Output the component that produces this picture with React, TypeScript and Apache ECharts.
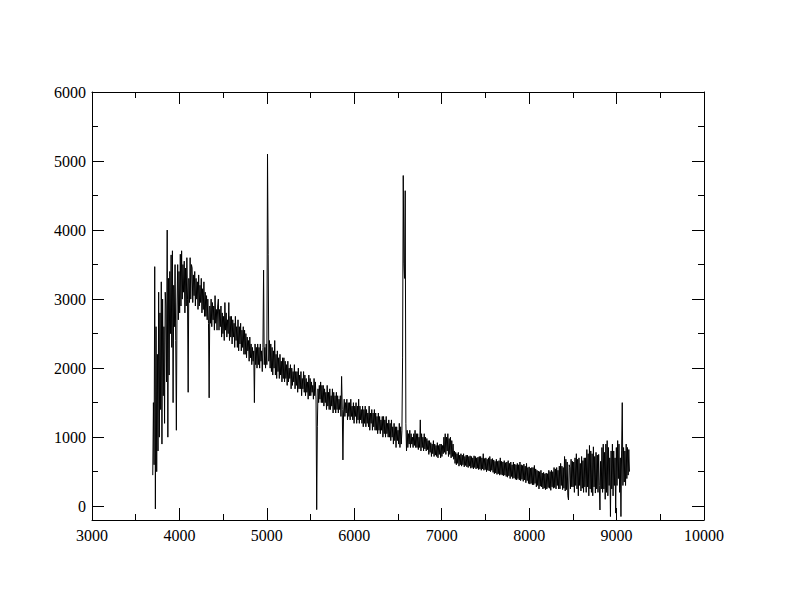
import React, { useEffect, useRef } from "react";
import * as echarts from "echarts";

// Spectrum sampled on a uniform wavelength grid (Å)
const WAVE_START = 3695;
const WAVE_STEP = 7.5;

// Flux values, 20 samples (150 Å) per row
const FLUX: number[] = [
  450, 1500, 600, 3470, -40, 2600, 500, 2200, 800, 3100, 1000, 2800, 1400, 3250, 900, 3000, 1600, 2600, 1200, 3100,
  2900, 1800, 4000, 1000, 3300, 1900, 3400, 2500, 3640, 2300, 3700, 1500, 3200, 2600, 3500, 2400, 1100, 2900, 3500, 2700,
  3400, 2800, 3650, 2900, 3700, 3000, 3500, 3100, 3550, 2800, 3450, 2900, 3600, 3000, 1650, 3300, 2950, 3600, 3000, 3500,
  3450, 2950, 3350, 3050, 3400, 2900, 3300, 3000, 3250, 2850, 3350, 2900, 3200, 2950, 3300, 2800, 3150, 2850, 3250, 2750,
  3100, 2750, 3050, 2700, 3000, 2650, 1570, 2900, 2650, 3000, 2600, 2950, 2700, 2900, 2550, 3050, 2650, 2850, 2550, 2900,
  3000, 2550, 2850, 2600, 2900, 2450, 2800, 2500, 2750, 2400, 2950, 2550, 2800, 2450, 2700, 2500, 2950, 2400, 2750, 2450,
  2750, 2350, 2700, 2450, 2650, 2300, 2750, 2400, 2600, 2300, 2700, 2250, 2600, 2350, 2650, 2250, 2550, 2300, 2600, 2200,
  2550, 2200, 2500, 2150, 2450, 2250, 2400, 2100, 2450, 2150, 2350, 2050, 2300, 2100, 2250, 1500, 2350, 2050, 2300, 2000,
  2350, 2050, 2300, 2000, 2350, 2100, 2250, 1950, 2300, 3420, 2050, 2300, 2000, 2350, 2050, 5100, 3650, 2100, 2400, 2000,
  2350, 1950, 2300, 1900, 2250, 2000, 2400, 1900, 2200, 1850, 2250, 1950, 2150, 1850, 2200, 1900, 2100, 1800, 2150, 1850,
  2150, 1800, 2100, 1850, 2050, 1750, 2100, 1800, 2000, 1850, 2050, 1700, 2000, 1750, 1950, 1800, 2050, 1700, 1950, 1750,
  1950, 1650, 2000, 1700, 1900, 1700, 1950, 1600, 1850, 1700, 1950, 1650, 1900, 1600, 1850, 1650, 1800, 1550, 1900, 1600,
  1850, 1600, 1800, 1650, 1750, 1550, 1850, 1600, 1800, 1550, -50, 1150, 1700, 1500, 1750, 1550, 1800, 1500, 1750, 1500,
  1750, 1450, 1700, 1500, 1650, 1400, 1750, 1450, 1650, 1400, 1700, 1400, 1600, 1450, 1700, 1350, 1650, 1400, 1600, 1350,
  1650, 1400, 1600, 1350, 1550, 1400, 1600, 1300, 1880, 1400, 670, 1350, 1550, 1300, 1500, 1350, 1550, 1250, 1500, 1300,
  1500, 1250, 1550, 1300, 1450, 1250, 1500, 1200, 1450, 1300, 1500, 1200, 1450, 1250, 1550, 1200, 1450, 1250, 1400, 1200,
  1450, 1150, 1400, 1200, 1450, 1150, 1400, 1200, 1350, 1150, 1450, 1100, 1350, 1200, 1400, 1100, 1350, 1150, 1400, 1100,
  1350, 1100, 1300, 1050, 1350, 1100, 1300, 1050, 1250, 1100, 1300, 1000, 1300, 1050, 1250, 1000, 1300, 1050, 1200, 1000,
  1250, 1000, 1200, 950, 1250, 1000, 1150, 900, 1200, 950, 1150, 850, 1150, 950, 1100, 900, 1200, 850, 1150, 900,
  1100, 2160, 4790, 3520, 3300, 4570, 1200, 800, 1100, 850, 1050, 900, 1100, 850, 1050, 900, 1000, 850, 1050, 880,
  1100, 850, 1050, 850, 1050, 820, 1000, 850, 1250, 800, 1050, 850, 1000, 800, 1050, 830, 1000, 800, 980, 820,
  950, 750, 950, 780, 920, 720, 900, 760, 950, 720, 900, 740, 880, 720, 920, 700, 880, 750, 900, 700,
  900, 720, 880, 760, 1000, 780, 1050, 750, 1000, 800, 1050, 720, 980, 750, 1000, 700, 950, 720, 900, 680,
  800, 620, 780, 600, 760, 620, 780, 580, 740, 600, 760, 580, 740, 600, 760, 570, 720, 590, 740, 570,
  740, 560, 720, 580, 730, 550, 720, 560, 700, 540, 730, 560, 720, 540, 700, 550, 710, 530, 720, 540,
  720, 520, 700, 540, 760, 520, 690, 530, 700, 500, 680, 520, 700, 510, 720, 500, 680, 520, 690, 490,
  670, 470, 650, 480, 680, 460, 650, 470, 660, 450, 700, 460, 650, 450, 640, 440, 660, 450, 630, 430,
  640, 420, 660, 440, 620, 400, 640, 430, 600, 400, 640, 410, 610, 390, 600, 380, 620, 400, 600, 380,
  640, 370, 600, 390, 590, 360, 610, 380, 580, 340, 620, 370, 560, 330, 570, 320, 550, 330, 560, 310,
  560, 310, 590, 330, 540, 280, 520, 300, 510, 250, 500, 290, 520, 280, 480, 250, 490, 260, 470, 240,
  480, 250, 470, 270, 520, 260, 500, 230, 520, 280, 500, 260, 560, 270, 540, 250, 560, 300, 520, 250,
  580, 250, 620, 300, 580, 240, 560, 260, 720, 220, 680, 240, 640, 150, 90, 600, 560, 250, 680, 280,
  650, 280, 640, 200, 700, 300, 760, 250, 680, 150, 700, 300, 620, 220, 720, 260, 660, 200, 700, 280,
  700, 200, 820, 280, 760, 150, 880, 250, 800, 200, 760, 150, 860, 280, 720, 190, 780, 250, 740, 200,
  750, 300, -55, 650, 250, 850, 200, 900, 250, 780, 100, 900, 200, 950, 150, 850, 300, 700, -150, 800,
  250, 900, 150, 800, 300, 700, -100, 850, 300, 950, 400, 900, 200, 700, -150, 800, 1500, 300, 850, 350,
  800, 300, 900, 400, 850, 450, 820, 500,
];

const X_MIN = 3000;
const X_MAX = 10000;
const X_INTERVAL = 1000;
const Y_MIN = -200;
const Y_MAX = 6000;
const Y_TICKS = [0, 1000, 2000, 3000, 4000, 5000, 6000];
const Y_MINOR_TICKS = [500, 1500, 2500, 3500, 4500, 5500];

const FONT = "'Liberation Serif', 'Times New Roman', serif";

export default function App() {
  const ref = useRef<HTMLDivElement>(null);

  useEffect(() => {
    if (!ref.current) return;
    const chart = echarts.init(ref.current, null, { renderer: "svg" });
    const data = FLUX.map((v, i) => [WAVE_START + WAVE_STEP * i, v]);

    const lineStyle = { color: "#000", width: 1 };
    const xBase = {
      type: "value" as const,
      min: X_MIN,
      max: X_MAX,
      interval: X_INTERVAL,
      splitLine: { show: false },
      axisLine: { show: true, onZero: false, lineStyle },
      axisTick: { show: true, inside: true, length: 12, lineStyle },
      minorTick: { show: true, splitNumber: 2, length: 6, lineStyle },
      minorSplitLine: { show: false },
    };
    const yBase = {
      type: "value" as const,
      min: Y_MIN,
      max: Y_MAX,
      splitLine: { show: false },
    };

    chart.setOption({
      animation: false,
      backgroundColor: "#fff",
      grid: { left: 92, top: 92, width: 612, height: 428, containLabel: false },
      xAxis: [
        {
          ...xBase,
          position: "bottom",
          axisLabel: {
            show: true,
            color: "#000",
            fontFamily: FONT,
            fontSize: 16,
            margin: 7,
            formatter: (v: number) => String(v),
          },
        },
        {
          ...xBase,
          position: "top",
          axisLabel: { show: false },
        },
      ],
      yAxis: [
        {
          ...yBase,
          position: "left",
          axisLine: { show: true, onZero: false, lineStyle },
          axisTick: { show: true, inside: true, length: 12, lineStyle, customValues: Y_TICKS },
          axisLabel: {
            show: true,
            color: "#000",
            fontFamily: FONT,
            fontSize: 16,
            margin: 6,
            customValues: Y_TICKS,
            formatter: (v: number) => String(v),
          },
        },
        {
          ...yBase,
          position: "left",
          axisLine: { show: false, onZero: false },
          axisTick: { show: true, inside: true, length: 6, lineStyle, customValues: Y_MINOR_TICKS },
          axisLabel: { show: false },
        },
        {
          ...yBase,
          position: "right",
          axisLine: { show: true, onZero: false, lineStyle },
          axisTick: { show: true, inside: true, length: 12, lineStyle, customValues: Y_TICKS },
          axisLabel: { show: false },
        },
        {
          ...yBase,
          position: "right",
          axisLine: { show: false, onZero: false },
          axisTick: { show: true, inside: true, length: 6, lineStyle, customValues: Y_MINOR_TICKS },
          axisLabel: { show: false },
        },
      ],
      series: [
        {
          type: "line",
          xAxisIndex: 0,
          yAxisIndex: 0,
          data,
          showSymbol: false,
          symbol: "none",
          lineStyle: { color: "#000", width: 1 },
          silent: true,
        },
      ],
    });

    return () => chart.dispose();
  }, []);

  return (
    <div
      ref={ref}
      style={{ position: "fixed", left: 0, top: 0, width: 792, height: 612, background: "#fff" }}
    />
  );
}
